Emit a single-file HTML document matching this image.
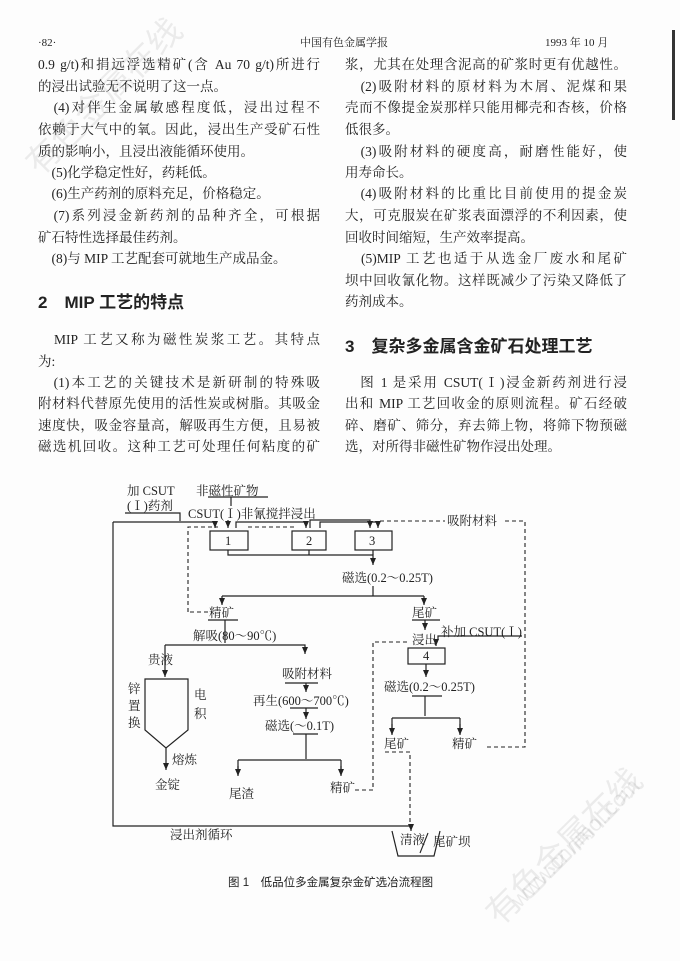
<!DOCTYPE html>
<html><head><meta charset="utf-8"><style>
body{margin:0;background:#fff;}
#p{position:relative;width:680px;height:961px;overflow:hidden;background:#fdfdfd;font-family:"Liberation Serif","Noto Serif CJK SC","Noto Sans CJK SC",serif;color:#222;}
.l{position:absolute;font-size:13.5px;line-height:16px;white-space:nowrap;}
.j{width:282px;text-align:justify;text-align-last:justify;white-space:normal;}
.h{position:absolute;font-family:"Liberation Sans","Noto Sans CJK SC",sans-serif;font-size:17px;font-weight:bold;}
svg{position:absolute;left:0;top:0;}
svg text{font-family:"Liberation Serif","Noto Serif CJK SC",serif;font-size:12.5px;fill:#222;}
.wm{position:absolute;color:rgba(0,0,0,0.07);font-family:"Liberation Sans","Noto Sans CJK SC",sans-serif;font-size:34px;transform:rotate(-45deg);white-space:nowrap;}
</style></head><body><div id="p">
<div class="wm" style="left:0px;top:70px;">有色金属在线</div>
<div class="wm" style="left:460px;top:820px;">有色金属在线</div>
<div class="wm" style="left:490px;top:830px;font-size:22px;">www.cnnmol.com</div>

<div class="l" style="left:38px;top:35px;font-size:11px;">·82·</div>
<div class="l" style="left:300px;top:35px;font-size:11px;">中国有色金属学报</div>
<div class="l" style="left:545px;top:35px;font-size:11px;">1993 年 10 月</div>
<div style="position:absolute;left:672px;top:30px;width:3px;height:90px;background:#333"></div>

<div class="l j" style="left:38px;top:57px;">0.9 g/t)和捐远浮选精矿(含 Au 70 g/t)所进行</div>
<div class="l" style="left:38px;top:79px;">的浸出试验无不说明了这一点。</div>
<div class="l j" style="left:38px;top:100px;">　(4)对伴生金属敏感程度低，浸出过程不</div>
<div class="l j" style="left:38px;top:122px;">依赖于大气中的氧。因此，浸出生产受矿石性</div>
<div class="l" style="left:38px;top:144px;">质的影响小，且浸出液能循环使用。</div>
<div class="l" style="left:38px;top:165px;">　(5)化学稳定性好，药耗低。</div>
<div class="l" style="left:38px;top:186px;">　(6)生产药剂的原料充足，价格稳定。</div>
<div class="l j" style="left:38px;top:208px;">　(7)系列浸金新药剂的品种齐全，可根据</div>
<div class="l" style="left:38px;top:230px;">矿石特性选择最佳药剂。</div>
<div class="l" style="left:38px;top:251px;">　(8)与 MIP 工艺配套可就地生产成品金。</div>
<div class="h" style="left:38px;top:288px;">2　MIP 工艺的特点</div>
<div class="l j" style="left:38px;top:332px;">　MIP 工艺又称为磁性炭浆工艺。其特点</div>
<div class="l" style="left:38px;top:354px;">为:</div>
<div class="l j" style="left:38px;top:375px;">　(1)本工艺的关键技术是新研制的特殊吸</div>
<div class="l j" style="left:38px;top:396px;">附材料代替原先使用的活性炭或树脂。其吸金</div>
<div class="l j" style="left:38px;top:418px;">速度快，吸金容量高，解吸再生方便，且易被</div>
<div class="l j" style="left:38px;top:439px;">磁选机回收。这种工艺可处理任何粘度的矿</div>

<div class="l j" style="left:345px;top:57px;">浆，尤其在处理含泥高的矿浆时更有优越性。</div>
<div class="l j" style="left:345px;top:79px;">　(2)吸附材料的原材料为木屑、泥煤和果</div>
<div class="l j" style="left:345px;top:100px;">壳而不像提金炭那样只能用椰壳和杏核，价格</div>
<div class="l" style="left:345px;top:122px;">低很多。</div>
<div class="l j" style="left:345px;top:144px;">　(3)吸附材料的硬度高，耐磨性能好，使</div>
<div class="l" style="left:345px;top:165px;">用寿命长。</div>
<div class="l j" style="left:345px;top:186px;">　(4)吸附材料的比重比目前使用的提金炭</div>
<div class="l j" style="left:345px;top:208px;">大，可克服炭在矿浆表面漂浮的不利因素，使</div>
<div class="l" style="left:345px;top:230px;">回收时间缩短，生产效率提高。</div>
<div class="l j" style="left:345px;top:251px;">　(5)MIP 工艺也适于从选金厂废水和尾矿</div>
<div class="l j" style="left:345px;top:273px;">坝中回收氰化物。这样既减少了污染又降低了</div>
<div class="l" style="left:345px;top:294px;">药剂成本。</div>
<div class="h" style="left:345px;top:332px;">3　复杂多金属含金矿石处理工艺</div>
<div class="l j" style="left:345px;top:375px;">　图 1 是采用 CSUT(Ⅰ)浸金新药剂进行浸</div>
<div class="l j" style="left:345px;top:396px;">出和 MIP 工艺回收金的原则流程。矿石经破</div>
<div class="l j" style="left:345px;top:418px;">碎、磨矿、筛分，弃去筛上物，将筛下物预磁</div>
<div class="l" style="left:345px;top:439px;">选，对所得非磁性矿物作浸出处理。</div>

<svg width="680" height="961" viewBox="0 0 680 961">
<defs><marker id="a" markerWidth="8" markerHeight="6" refX="7" refY="3" orient="auto" markerUnits="userSpaceOnUse"><path d="M0,0 L7,3 L0,6 Z" fill="#222"/></marker></defs>
<g stroke="#222" stroke-width="1.2" fill="none">
<path d="M125,513 H180 V521"/>
<path d="M208,497 H268 M231,497 V506"/>
<path d="M113,522 V826 H411 V831" marker-end="url(#a)"/>
<path d="M113,522 H215 V528" marker-end="url(#a)"/>
<path d="M228,520 V528" marker-end="url(#a)"/>
<rect x="210" y="531" width="38" height="19"/>
<rect x="292" y="531" width="34" height="19"/>
<rect x="355" y="531" width="37" height="19"/>
<path d="M236,528 V522 H306 V528" marker-end="url(#a)"/>
<path d="M310,528 V520 H370 V528" marker-end="url(#a)"/>
<path d="M320,528 V522 H378 V528" marker-end="url(#a)"/>
<path d="M228,550 V555 H373 V565" marker-end="url(#a)"/>
<path d="M309,550 V555 M373,550 V555"/>
<path d="M373,586 V596 M222,596 H424 M222,596 V604 M424,596 V604" />
<path d="M222,598 V605" marker-end="url(#a)"/><path d="M424,598 V605" marker-end="url(#a)"/>
<path d="M208,620 H238 M412,620 H440"/>
<path d="M225,620 V643 M165,645 H305 V654" marker-end="url(#a)"/>
<path d="M425,620 V630" marker-end="url(#a)"/>
<path d="M438,640 V636 H522"/>
<path d="M436,641 V646" marker-end="url(#a)"/>
<rect x="408" y="648" width="37" height="16"/>
<path d="M165,645 V677" marker-end="url(#a)"/>
<path d="M145,679 H188 V730 L166,748 L145,730 Z"/>
<path d="M166,748 V770" marker-end="url(#a)"/>
<path d="M285,683 H318 M306,683 V692" marker-end="url(#a)"/>
<path d="M290,708 H318 M306,708 V719" marker-end="url(#a)"/>
<path d="M293,734 H318 M306,734 V759 M238,760 H341 M238,760 V775 M341,760 V775"/>
<path d="M238,766 V776" marker-end="url(#a)"/><path d="M341,766 V776" marker-end="url(#a)"/>
<path d="M426,664 V677" marker-end="url(#a)"/>
<path d="M412,696 H442 M425,696 V716 M392,718 H460 M392,718 V734 M460,718 V734"/>
<path d="M392,724 V735" marker-end="url(#a)"/><path d="M460,724 V735" marker-end="url(#a)"/>
<path d="M392,831 L398,856 H434 L440,831"/>
</g>
<g stroke="#222" stroke-width="1.1" fill="none" stroke-dasharray="4,3">
<path d="M188,612 V527 H218"/>
<path d="M208,612 H190"/>
<path d="M248,527 H296"/>
<path d="M380,521 H445"/>
<path d="M505,521 H525 V747 H486"/>
<path d="M355,790 H373 V642 H408"/>
<path d="M385,752 H410 V828"/>
</g>
<text x="127" y="495">加 CSUT</text>
<text x="127" y="510">(Ⅰ)药剂</text>
<text x="196" y="495">非磁性矿物</text>
<text x="188" y="518">CSUT(Ⅰ)非氰搅拌浸出</text>
<text x="225" y="545">1</text><text x="306" y="545">2</text><text x="369" y="545">3</text>
<text x="447" y="525">吸附材料</text>
<text x="342" y="582">磁选(0.2～0.25T)</text>
<text x="209" y="617">精矿</text>
<text x="412" y="617">尾矿</text>
<text x="193" y="640">解吸(80～90℃)</text>
<text x="412" y="644">浸出</text>
<text x="441" y="636">补加 CSUT(Ⅰ)</text>
<text x="423" y="660">4</text>
<text x="148" y="664">贵液</text>
<text x="128" y="693">锌</text><text x="128" y="710">置</text><text x="128" y="727">换</text>
<text x="194" y="699">电</text><text x="194" y="718">积</text>
<text x="172" y="764">熔炼</text>
<text x="155" y="789">金锭</text>
<text x="282" y="678">吸附材料</text>
<text x="253" y="705">再生(600～700℃)</text>
<text x="265" y="730">磁选(～0.1T)</text>
<text x="229" y="798">尾渣</text>
<text x="330" y="792">精矿</text>
<text x="384" y="691">磁选(0.2～0.25T)</text>
<text x="384" y="748">尾矿</text>
<text x="452" y="748">精矿</text>
<text x="170" y="839">浸出剂循环</text>
<text x="400" y="844">清液</text>
<text x="433" y="846">尾矿坝</text>
<path d="M428,833 L420,853" stroke="#222" stroke-width="1.1"/>
</svg>
<div class="l" style="left:228px;top:875px;font-size:11.5px;font-family:'Liberation Sans','Noto Sans CJK SC',sans-serif;">图 1　低品位多金属复杂金矿选冶流程图</div>
</div></body></html>
